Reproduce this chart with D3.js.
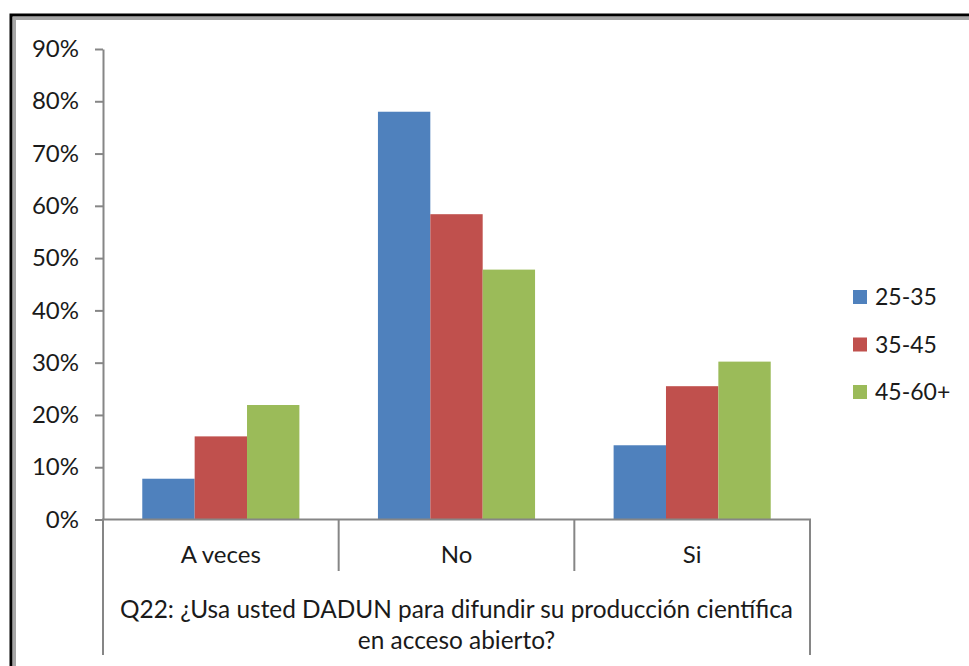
<!DOCTYPE html>
<html>
<head>
<meta charset="utf-8">
<script src="https://cdn.jsdelivr.net/npm/d3@7"></script>
<style>
  body { margin: 0; background: #fff; }
  svg { display: block; font-family: Lato, "Open Sans", sans-serif; }
</style>
</head>
<body>
<div class="container"></div>
<script>
const categories = ["A veces", "No", "Si"]
const seriesNames = ["25-35", "35-45", "45-60+"]
const values25 = [0.078, 0.780, 0.142]
const values35 = [0.159, 0.584, 0.255]
const values45 = [0.219, 0.478, 0.302]
const yTicks = [0, 0.1, 0.2, 0.3, 0.4, 0.5, 0.6, 0.7, 0.8, 0.9]
const titleLines = ["Q22: ¿Usa usted DADUN para difundir su producción científica", "en acceso abierto?"]
const colors = ["#4f81bd", "#c0504d", "#9bbb59"]

const width = 969
const height = 666
const axisColor = "#868686"
const textColor = "#1a1a1a"

const svg = d3.select(".container").append("svg")
    .attr("width", width)
    .attr("height", height)

// chart frame (runs off the right / bottom of the picture)
svg.append("rect")
    .attr("x", 14.5).attr("y", 18.5)
    .attr("width", 1000).attr("height", 700)
    .attr("fill", "none").attr("stroke", "#a6a6a6").attr("stroke-width", 3)
svg.append("rect")
    .attr("x", 11).attr("y", 15)
    .attr("width", 1000).attr("height", 700)
    .attr("fill", "none").attr("stroke", "#000").attr("stroke-width", 3)

const xScale = d3.scaleBand()
    .domain(categories)
    .range([103, 810])

const inner = d3.scaleBand()
    .domain(seriesNames)
    .range([0, xScale.bandwidth()])
    .paddingOuter(0.75)

const yScale = d3.scaleLinear()
    .domain([0, 0.9])
    .range([519.5, 49])

const rows = categories.map((c, i) => ({
    cat: c,
    vals: [values25[i], values35[i], values45[i]]
}))

// bars
const groups = svg.selectAll(".grp")
    .data(rows)
    .enter()
    .append("g")
    .attr("class", "grp")
    .attr("transform", d => `translate(${xScale(d.cat)},0)`)

groups.selectAll("rect")
    .data(d => d.vals.map((v, j) => ({ name: seriesNames[j], v: v, j: j })))
    .enter()
    .append("rect")
    .attr("x", d => inner(d.name))
    .attr("y", d => yScale(d.v))
    .attr("width", inner.bandwidth())
    .attr("height", d => yScale(0) - yScale(d.v))
    .style("fill", d => colors[d.j])

// y axis
const yAxis = d3.axisLeft(yScale)
    .tickValues(yTicks)
    .tickFormat(d3.format(".0%"))
    .tickSizeInner(8)
    .tickSizeOuter(0)
    .tickPadding(16)

const gy = svg.append("g")
    .attr("transform", "translate(103,0)")
    .call(yAxis)
gy.select(".domain").attr("stroke", axisColor).attr("stroke-width", 2)
gy.selectAll(".tick line").attr("stroke", axisColor).attr("stroke-width", 2)
gy.selectAll(".tick text")
    .attr("fill", textColor)
    .style("font-size", "24px")
    .style("font-family", "Lato, sans-serif")

// x axis line
const y0 = yScale(0)
svg.append("line")
    .attr("x1", xScale.range()[0] - 1).attr("x2", xScale.range()[1] + 1)
    .attr("y1", y0).attr("y2", y0)
    .attr("stroke", axisColor).attr("stroke-width", 2)

// category dividers
const bounds = categories.map(c => xScale(c)).concat([xScale.range()[1]])
svg.selectAll(".divider")
    .data(bounds)
    .enter()
    .append("line")
    .attr("class", "divider")
    .attr("x1", d => d).attr("x2", d => d)
    .attr("y1", y0)
    .attr("y2", (d, i) => (i === 0 || i === bounds.length - 1) ? 655 : 571)
    .attr("stroke", axisColor).attr("stroke-width", 2)

// category labels
svg.selectAll(".catlabel")
    .data(categories)
    .enter()
    .append("text")
    .attr("class", "catlabel")
    .attr("x", d => xScale(d) + xScale.bandwidth() / 2)
    .attr("y", 563)
    .attr("text-anchor", "middle")
    .attr("fill", textColor)
    .style("font-size", "24px")
    .text(d => d)

// axis title
const midX = (xScale.range()[0] + xScale.range()[1]) / 2
svg.selectAll(".title")
    .data(titleLines)
    .enter()
    .append("text")
    .attr("class", "title")
    .attr("x", midX)
    .attr("y", (d, i) => 618 + i * 31)
    .attr("text-anchor", "middle")
    .attr("fill", textColor)
    .style("font-size", "24.4px")
    .text(d => d)

// legend
const legend = svg.selectAll(".legend")
    .data(seriesNames)
    .enter()
    .append("g")
    .attr("class", "legend")
    .attr("transform", (d, i) => `translate(853,${297 + i * 47.5})`)

legend.append("rect")
    .attr("x", 0).attr("y", -7)
    .attr("width", 14).attr("height", 14)
    .style("fill", (d, i) => colors[i])

legend.append("text")
    .attr("x", 22)
    .attr("y", 0)
    .attr("dy", "0.35em")
    .attr("fill", textColor)
    .style("font-size", "23px")
    .text(d => d)
</script>
</body>
</html>
